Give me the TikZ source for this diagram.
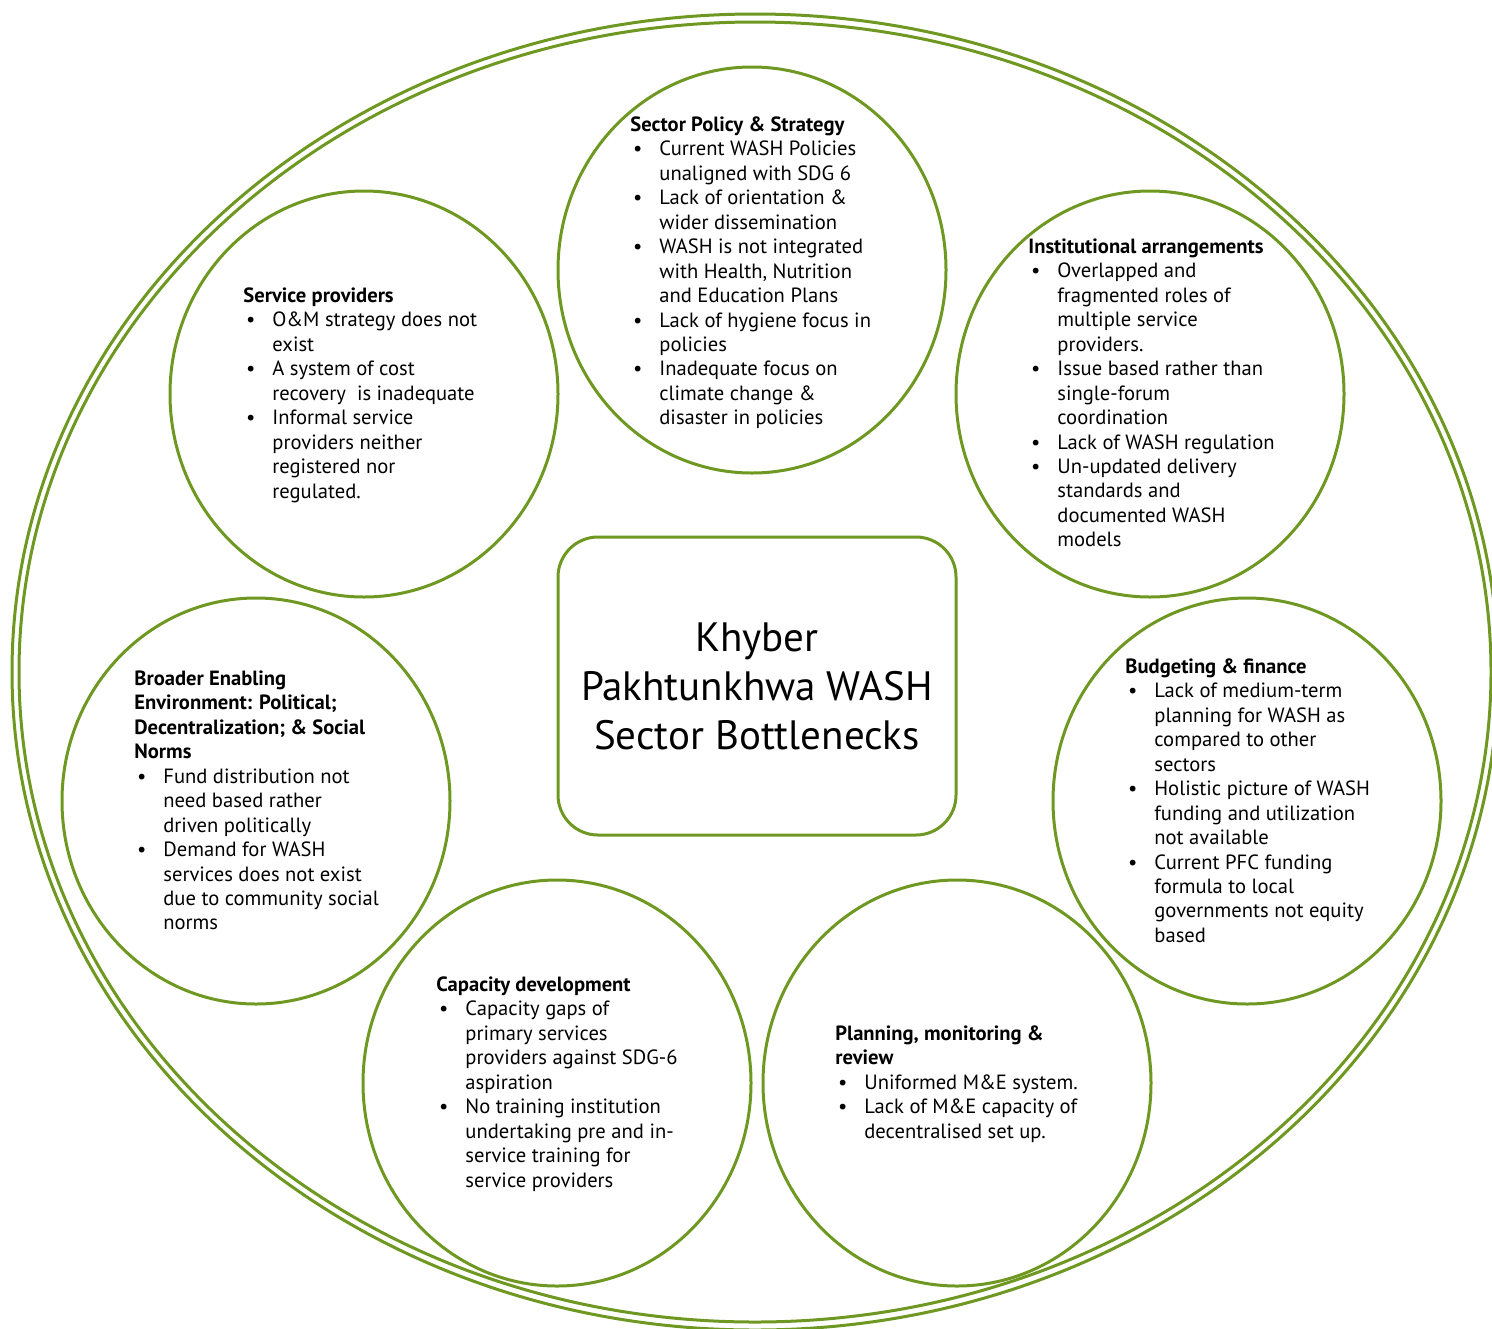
\documentclass[tikz,border=0pt]{standalone}
\usepackage{fontspec}
\usetikzlibrary{shapes.geometric}
\setmainfont{PT Sans}
\definecolor{leaf}{RGB}{110,152,34}
\newcommand\itm{\makebox[14.5pt][l]{\hspace{1.4pt}\textbullet}}
\newcommand\cnt{\hspace*{14.5pt}}
\begin{document}
\begin{tikzpicture}[x=0.5pt,y=-0.5pt,
  ring/.style={draw=leaf,line width=1.5pt},
  bubble/.style={ellipse,draw=leaf,line width=1.5pt,minimum width=194pt,minimum height=203pt,inner sep=0pt},
  hub/.style={draw=leaf,line width=1.5pt,rounded corners=20pt,minimum width=199pt,minimum height=149pt,
    align=center,font=\fontsize{20.5}{24.5}\selectfont},
  blurb/.style={anchor=north west,inner sep=0pt,align=left,font=\fontsize{10.3}{12.22}\selectfont}]
\useasboundingbox (0,0) rectangle (1492,1328);
% concentric double outer ring, cropped by the page edge
\begin{scope}
\clip (0,0) rectangle (1492,1328);
\draw[ring] (755,672) ellipse [x radius=371.5pt, y radius=329pt];
\draw[ring] (755,672) ellipse [x radius=368pt, y radius=325pt];
\end{scope}
% theme circles
\node[bubble] (policy) at (752,270) {};
\node[bubble] (service) at (364,394) {};
\node[bubble] (inst) at (1150,394) {};
\node[bubble] (broad) at (256,801) {};
\node[bubble] (budget) at (1247,801) {};
\node[bubble] (capac) at (557,1083) {};
\node[bubble] (plan) at (957,1083) {};
% central box
\node[hub] (core) at (757,686) {Khyber\\Pakhtunkhwa WASH\\Sector Bottlenecks};
% circle contents (first baseline = anchor y + 17)
\node[blurb] (policytxt) at (630,114) {\strut\textbf{Sector Policy \& Strategy}\\
\itm Current WASH Policies\\
\cnt unaligned with SDG 6\\
\itm Lack of orientation \&\\
\cnt wider dissemination\\
\itm WASH is not integrated\\
\cnt with Health, Nutrition\\
\cnt and Education Plans\\
\itm Lack of hygiene focus in\\
\cnt policies\\
\itm Inadequate focus on\\
\cnt climate change \&\\
\cnt disaster in policies};
\node[blurb] (servicetxt) at (243,285) {\strut\textbf{Service providers}\\
\itm O\&M strategy does not\\
\cnt exist\\
\itm A system of cost\\
\cnt recovery\ \ is inadequate\\
\itm Informal service\\
\cnt providers neither\\
\cnt registered nor\\
\cnt regulated.};
\node[blurb] (insttxt) at (1028,236) {\strut\textbf{Institutional arrangements}\\
\itm Overlapped and\\
\cnt fragmented roles of\\
\cnt multiple service\\
\cnt providers.\\
\itm Issue based rather than\\
\cnt single-forum\\
\cnt coordination\\
\itm Lack of WASH regulation\\
\itm Un-updated delivery\\
\cnt standards and\\
\cnt documented WASH\\
\cnt models};
\node[blurb] (broadtxt) at (134,668) {\strut\textbf{Broader Enabling}\\
\textbf{Environment: Political;}\\
\textbf{Decentralization; \& Social}\\
\textbf{Norms}\\
\itm Fund distribution not\\
\cnt need based rather\\
\cnt driven politically\\
\itm Demand for WASH\\
\cnt services does not exist\\
\cnt due to community social\\
\cnt norms};
\node[blurb] (budgettxt) at (1125,656) {\strut\textbf{Budgeting \& finance}\\
\itm Lack of medium-term\\
\cnt planning for WASH as\\
\cnt compared to other\\
\cnt sectors\\
\itm Holistic picture of WASH\\
\cnt funding and utilization\\
\cnt not available\\
\itm Current PFC funding\\
\cnt formula to local\\
\cnt governments not equity\\
\cnt based};
\node[blurb] (capactxt) at (436,974) {\strut\textbf{Capacity development}\\
\itm Capacity gaps of\\
\cnt primary services\\
\cnt providers against SDG-6\\
\cnt aspiration\\
\itm No training institution\\
\cnt undertaking pre and in-\\
\cnt service training for\\
\cnt service providers};
\node[blurb] (plantxt) at (835,1023) {\strut\textbf{Planning, monitoring \&}\\
\textbf{review}\\
\itm Uniformed M\&E system.\\
\itm Lack of M\&E capacity of\\
\cnt decentralised set up.};
\end{tikzpicture}
\end{document}
